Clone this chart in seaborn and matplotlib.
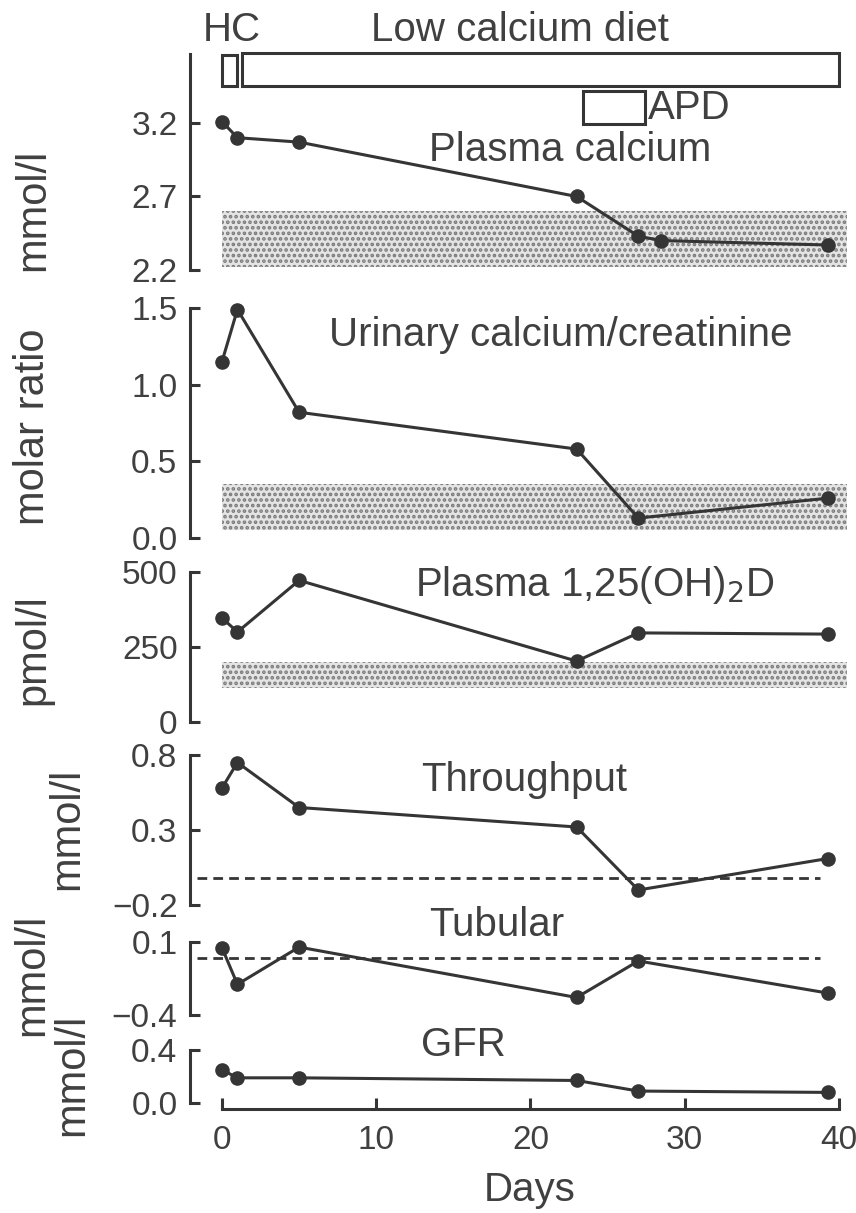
import matplotlib
matplotlib.use("Agg")
import matplotlib.pyplot as plt
from matplotlib.patches import Rectangle
import seaborn as sns
import pandas as pd

sns.set_theme(style="white")
plt.rcParams['font.family'] = ['Liberation Sans', 'DejaVu Sans']
plt.rcParams['hatch.linewidth'] = 1.8
plt.rcParams['axes.unicode_minus'] = True

# ---------------- data ----------------
days_ca = [0, 1, 5, 23, 27, 28.5, 39.3]
plasma_calcium = [3.21, 3.10, 3.07, 2.70, 2.43, 2.40, 2.37]
days = [0, 1, 5, 23, 27, 39.3]
urinary_ratio = [1.15, 1.49, 0.82, 0.58, 0.13, 0.26]
plasma_d = [347, 300, 472, 203, 297, 293]
throughput = [0.58, 0.75, 0.45, 0.32, -0.10, 0.11]
tubular = [0.06, -0.19, 0.065, -0.28, -0.03, -0.25]
gfr = [0.25, 0.19, 0.19, 0.17, 0.09, 0.08]

normal_ca = (2.22, 2.60)
normal_ratio = (0.05, 0.35)
normal_d = (113, 200)
ref_throughput = -0.02
ref_tubular = -0.01

hc_period = (0, 1)
diet_period = (1.3, 40)
apd_period = (23.4, 27.4)

x_ticks = [0, 10, 20, 30, 40]
ticks_ca = [2.2, 2.7, 3.2]
ticks_ratio = [0.0, 0.5, 1.0, 1.5]
ticks_d = [0, 250, 500]
ticks_thr = [-0.2, 0.3, 0.8]
ticks_tub = [-0.4, 0.1]
ticks_gfr = [0.0, 0.4]

# ---------------- layout ----------------
W, H = 856, 1213
fig = plt.figure(figsize=(W / 100, H / 100), dpi=100)
ink = '#353535'
txt = '#404040'
FS_TICK = 24
FS_TITLE = 29
FS_UNIT = 30

x_left_px, x0_px, px_per_day = 190, 222, 15.42
xlim = ((x_left_px - x0_px) / px_per_day, (848 - x0_px) / px_per_day)


def make_axes(lo_val, lo_px, hi_val, hi_px, top_px, bot_px):
    scale = (hi_val - lo_val) / (lo_px - hi_px)
    ax = fig.add_axes([x_left_px / W, 1 - bot_px / H,
                       (848 - x_left_px) / W, (bot_px - top_px) / H])
    ax.set_ylim(lo_val - (bot_px - lo_px) * scale, lo_val + (lo_px - top_px) * scale)
    ax.set_xlim(*xlim)
    ax.patch.set_alpha(0)
    for s in ['top', 'right', 'bottom']:
        ax.spines[s].set_visible(False)
    ax.spines['left'].set_color(ink)
    ax.spines['left'].set_linewidth(2.2)
    ax.tick_params(axis='y', direction='in', length=7, width=2.2, color=ink,
                   labelsize=FS_TICK, labelcolor=txt, pad=9, left=True)
    ax.tick_params(axis='x', bottom=False, labelbottom=False)
    ax.grid(False)
    return ax


def draw_series(ax, x, y):
    df = pd.DataFrame({'day': x, 'value': y})
    sns.lineplot(data=df, x='day', y='value', ax=ax, color=ink, linewidth=2.2,
                 marker='o', markersize=10.5, markeredgewidth=0, legend=False)
    for ln in ax.lines:
        ln.set_clip_on(False)
    ax.set_xlabel('')
    ax.set_ylabel('')


def band(ax, lo, hi):
    ax.fill_between([0, 40.5], [lo, lo], [hi, hi], facecolor='#e4e4e4',
                    hatch='...', edgecolor='#7a7a7a', linewidth=0, zorder=0)


def ftext(xp, yp, s, **kw):
    fig.text(xp / W, 1 - yp / H, s, color=txt, **kw)


# Plasma calcium (with treatment bars)
ax1 = make_axes(2.2, 270, 3.2, 123, 40, 270)
ax1.spines['left'].set_bounds(2.2, 3.67)
ax1.set_yticks(ticks_ca)
ax1.set_yticklabels([f'{v:.1f}' for v in ticks_ca])
band(ax1, *normal_ca)
draw_series(ax1, days_ca, plasma_calcium)
for (a, b), (ylo, yhi) in [(hc_period, (3.45, 3.665)), (diet_period, (3.45, 3.675)),
                           (apd_period, (3.195, 3.42))]:
    r = Rectangle((a, ylo), b - a, yhi - ylo, facecolor='none', edgecolor=ink,
                  linewidth=2.2, clip_on=False)
    ax1.add_patch(r)

# Urinary calcium / creatinine
ax2 = make_axes(0.0, 538, 1.5, 308, 300, 538)
ax2.spines['left'].set_bounds(0.0, 1.5)
ax2.set_yticks(ticks_ratio)
ax2.set_yticklabels([f'{v:.1f}' for v in ticks_ratio])
band(ax2, *normal_ratio)
draw_series(ax2, days, urinary_ratio)

# Plasma 1,25(OH)2D
ax3 = make_axes(0, 722, 500, 572, 565, 722)
ax3.spines['left'].set_bounds(0, 500)
ax3.set_yticks(ticks_d)
ax3.set_yticklabels([str(v) for v in ticks_d])
band(ax3, *normal_d)
draw_series(ax3, days, plasma_d)

dash_xmax = (38.8 - xlim[0]) / (xlim[1] - xlim[0])

# Throughput
ax4 = make_axes(-0.2, 905, 0.8, 755, 748, 905)
ax4.spines['left'].set_bounds(-0.2, 0.8)
ax4.set_yticks(ticks_thr)
ax4.set_yticklabels([f'{v:.1f}'.replace('-', '\u2212') for v in ticks_thr])
ax4.axhline(ref_throughput, xmin=0.01, xmax=dash_xmax,
            color=ink, linestyle=(0, (3.5, 2.2)), linewidth=2.0)
draw_series(ax4, days, throughput)

# Tubular
ax5 = make_axes(-0.4, 1015, 0.1, 942, 930, 1015)
ax5.spines['left'].set_bounds(-0.4, 0.1)
ax5.set_yticks(ticks_tub)
ax5.set_yticklabels([f'{v:.1f}'.replace('-', '\u2212') for v in ticks_tub])
ax5.axhline(ref_tubular, xmin=0.01, xmax=dash_xmax,
            color=ink, linestyle=(0, (3.5, 2.2)), linewidth=2.0)
draw_series(ax5, days, tubular)

# GFR (with x axis)
ax6 = make_axes(0.0, 1103, 0.4, 1050, 1040, 1103)
ax6.spines['left'].set_bounds(0.0, 0.4)
ax6.set_yticks(ticks_gfr)
ax6.set_yticklabels([f'{v:.1f}' for v in ticks_gfr])
draw_series(ax6, days, gfr)
ax6.spines['bottom'].set_visible(True)
ax6.spines['bottom'].set_position(('outward', 4))
ax6.spines['bottom'].set_bounds(0, 40)
ax6.spines['bottom'].set_color(ink)
ax6.spines['bottom'].set_linewidth(2.2)
ax6.set_xticks(x_ticks)
ax6.set_xticklabels([str(v) for v in x_ticks])
ax6.tick_params(axis='x', bottom=True, labelbottom=True, direction='in', length=8,
                width=2.2, color=ink, labelsize=FS_TICK, labelcolor=txt, pad=12)

# panel titles and annotations
ftext(530, 1190, 'Days', fontsize=FS_TITLE, ha='center', va='center')
ftext(232, 30, 'HC', fontsize=FS_TITLE, ha='center', va='center')
ftext(520, 30, 'Low calcium diet', fontsize=FS_TITLE, ha='center', va='center')
ftext(648, 108, 'APD', fontsize=FS_TITLE, ha='left', va='center')
ftext(570, 150, 'Plasma calcium', fontsize=FS_TITLE, ha='center', va='center')
ftext(561, 335, 'Urinary calcium/creatinine', fontsize=FS_TITLE, ha='center', va='center')
ftext(595, 585, 'Plasma 1,25(OH)$_2$D', fontsize=FS_TITLE, ha='center', va='center')
ftext(524, 780, 'Throughput', fontsize=FS_TITLE, ha='center', va='center')
ftext(497, 925, 'Tubular', fontsize=FS_TITLE, ha='center', va='center')
ftext(463, 1045, 'GFR', fontsize=FS_TITLE, ha='center', va='center')

# y-axis unit labels
for xp, yp, s in [(33, 210, 'mmol/l'), (33, 427, 'molar ratio'), (33, 650, 'pmol/l'),
                  (67, 829, 'mmol/l'), (32, 975, 'mmol/l'), (72, 1075, 'mmol/l')]:
    ftext(xp, yp, s, fontsize=FS_UNIT, rotation=90, ha='center', va='center')

fig.savefig('out.png', dpi=100, facecolor='white')
